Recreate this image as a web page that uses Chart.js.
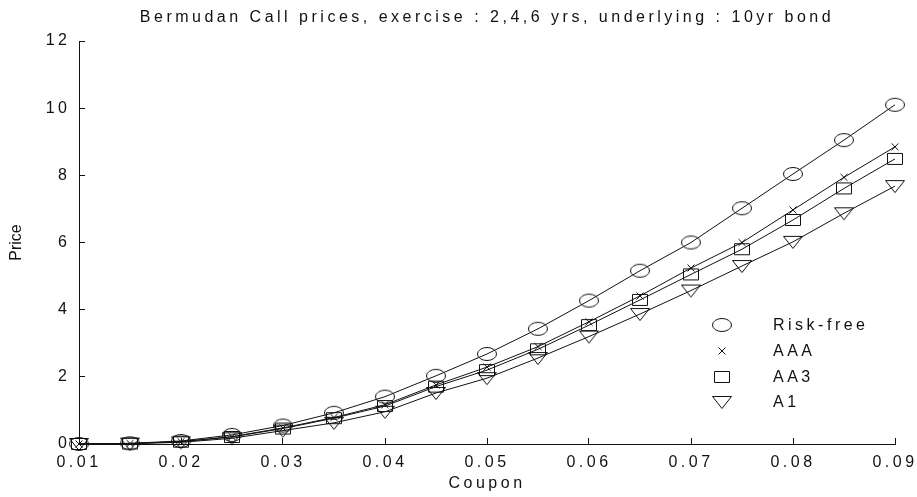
<!DOCTYPE html>
<html>
<head>
<meta charset="utf-8">
<script src="https://cdn.jsdelivr.net/npm/chart.js@4/dist/chart.umd.min.js"></script>
<style>
  html, body { margin: 0; padding: 0; background: #fff; }
  #wrap { width: 917px; height: 497px; }
</style>
</head>
<body>
<div id="wrap"><canvas id="bermudan-chart" width="917" height="497"></canvas></div>
<script>
const TITLE = 'Bermudan Call prices, exercise : 2,4,6 yrs, underlying : 10yr bond';

const coupons = [0.01, 0.015, 0.02, 0.025, 0.03, 0.035, 0.04, 0.045, 0.05,
    0.055, 0.06, 0.065, 0.07, 0.075, 0.08, 0.085, 0.09];

const riskFree = [0, 0.02, 0.09, 0.27, 0.55, 0.93, 1.41, 2.03, 2.68,
    3.43, 4.27, 5.16, 6.0, 7.02, 8.04, 9.05, 10.1];
const aaa = [0, 0.015, 0.07, 0.22, 0.48, 0.79, 1.17, 1.76, 2.29,
    2.9, 3.64, 4.41, 5.24, 6.0, 6.97, 7.94, 8.85];
const aa3 = [0, 0.015, 0.07, 0.21, 0.46, 0.77, 1.13, 1.71, 2.2,
    2.82, 3.54, 4.29, 5.05, 5.8, 6.67, 7.61, 8.49];
const a1 = [0, 0.01, 0.05, 0.17, 0.4, 0.63, 0.96, 1.52, 1.96,
    2.56, 3.2, 3.87, 4.57, 5.3, 6.02, 6.87, 7.68];

const seriesNames = ['Risk-free', 'AAA', 'AA3', 'A1'];
const seriesMarkers = ['ellipse', 'cross', 'rect', 'triangleDown'];

const xTicks = [0.01, 0.02, 0.03, 0.04, 0.05, 0.06, 0.07, 0.08, 0.09];
const yTicks = [0, 2, 4, 6, 8, 10, 12];

const FONT = { family: "'Liberation Sans', Arial, sans-serif", size: 16 };
const SPACING = '3.5px';
const INK = '#111';

// hollow marker glyphs, drawn once and handed to Chart.js as pointStyle images
const makeMarker = (kind) => {
    const c = document.createElement('canvas');
    const sizes = { ellipse: [22, 16], cross: [10, 10], rect: [18, 14], triangleDown: [22, 16] };
    [c.width, c.height] = sizes[kind];
    const g = c.getContext('2d');
    g.strokeStyle = INK;
    g.lineWidth = 1;
    g.beginPath();
    if (kind === 'ellipse') {
        g.ellipse(11, 8, 9.5, 6.5, 0, 0, Math.PI * 2);
    } else if (kind === 'cross') {
        g.moveTo(1.5, 1.5); g.lineTo(8.5, 8.5);
        g.moveTo(8.5, 1.5); g.lineTo(1.5, 8.5);
    } else if (kind === 'rect') {
        g.rect(1.5, 1.5, 15, 11);
    } else {
        g.moveTo(1.5, 2.5); g.lineTo(20.5, 2.5); g.lineTo(11, 14.5); g.closePath();
    }
    g.stroke();
    return c;
};

const markers = seriesMarkers.map(makeMarker);
const seriesValues = [riskFree, aaa, aa3, a1];

const datasets = seriesValues.map((values, i) => ({
    label: seriesNames[i],
    data: values.map((v, j) => ({ x: coupons[j], y: v })),
    borderColor: INK,
    borderWidth: 1,
    tension: 0,
    fill: false,
    clip: false,
    pointStyle: markers[i],
    pointRadius: 6,
    pointHoverRadius: 6,
}));

// canvas letter spacing is lost whenever the canvas is resized, so set it again before each pass
const spacingPlugin = {
    id: 'spacing',
    beforeUpdate: (chart) => { chart.ctx.letterSpacing = SPACING; },
    beforeDraw: (chart) => { chart.ctx.letterSpacing = SPACING; },
};

const titleAndLegendPlugin = {
    id: 'titleAndLegend',
    afterDraw: (chart) => {
        const { ctx, chartArea } = chart;
        ctx.save();
        ctx.fillStyle = INK;
        ctx.font = `${FONT.size}px ${FONT.family}`;
        ctx.textBaseline = 'middle';

        // y axis name is set tight, unlike the rest of the text
        ctx.letterSpacing = '0px';
        ctx.save();
        ctx.translate(17, (chartArea.top + chartArea.bottom) / 2);
        ctx.rotate(-Math.PI / 2);
        ctx.textAlign = 'center';
        ctx.fillText('Price', 0, 0);
        ctx.restore();

        ctx.letterSpacing = SPACING;
        ctx.textAlign = 'center';
        ctx.fillText(TITLE, (chartArea.left + chartArea.right) / 2, 18);

        // legend block sits inside the plot, lower right
        ctx.textAlign = 'left';
        const markerX = chartArea.right - 173;
        const textX = chartArea.right - 122;
        const rowY = [325, 351, 377, 402];
        chart.data.datasets.forEach((ds, i) => {
            const m = ds.pointStyle;
            ctx.drawImage(m, Math.round(markerX - m.width / 2), Math.round(rowY[i] - m.height / 2));
            ctx.fillText(ds.label, textX, rowY[i] + 1);
        });
        ctx.restore();
    },
};

const config = {
    type: 'line',
    data: { datasets },
    options: {
        responsive: false,
        animation: false,
        layout: { padding: { top: 41, right: 22, left: 0, bottom: 0 } },
        plugins: {
            legend: { display: false },
            title: { display: false },
            tooltip: { enabled: false },
        },
        scales: {
            x: {
                type: 'linear',
                min: 0.01,
                max: 0.09,
                afterBuildTicks: (scale) => { scale.ticks = xTicks.map((v) => ({ value: v })); },
                afterFit: (scale) => {
                    scale.height = 53;
                    scale.paddingLeft = 0;
                    scale.paddingRight = 0;
                },
                grid: { drawOnChartArea: false, tickLength: -6, color: INK, lineWidth: 1 },
                border: { color: INK, width: 1 },
                ticks: {
                    callback: (v) => v.toFixed(2),
                    font: FONT,
                    color: INK,
                    padding: 15,
                    maxRotation: 0,
                    autoSkip: false,
                },
                title: { display: true, text: 'Coupon', font: FONT, color: INK, padding: { top: 0, bottom: 4 } },
            },
            y: {
                min: 0,
                max: 12,
                afterBuildTicks: (scale) => { scale.ticks = yTicks.map((v) => ({ value: v })); },
                afterFit: (scale) => {
                    scale.width = 79;
                    scale.paddingTop = 0;
                    scale.paddingBottom = 0;
                },
                grid: { drawOnChartArea: false, tickLength: -6, color: INK, lineWidth: 1 },
                border: { color: INK, width: 1 },
                ticks: { font: FONT, color: INK, padding: 14.5 },
            },
        },
    },
    plugins: [spacingPlugin, titleAndLegendPlugin],
};

(function () {
    const el = document.getElementById('bermudan-chart');
    new Chart(el, config);
})();
</script>
</body>
</html>
